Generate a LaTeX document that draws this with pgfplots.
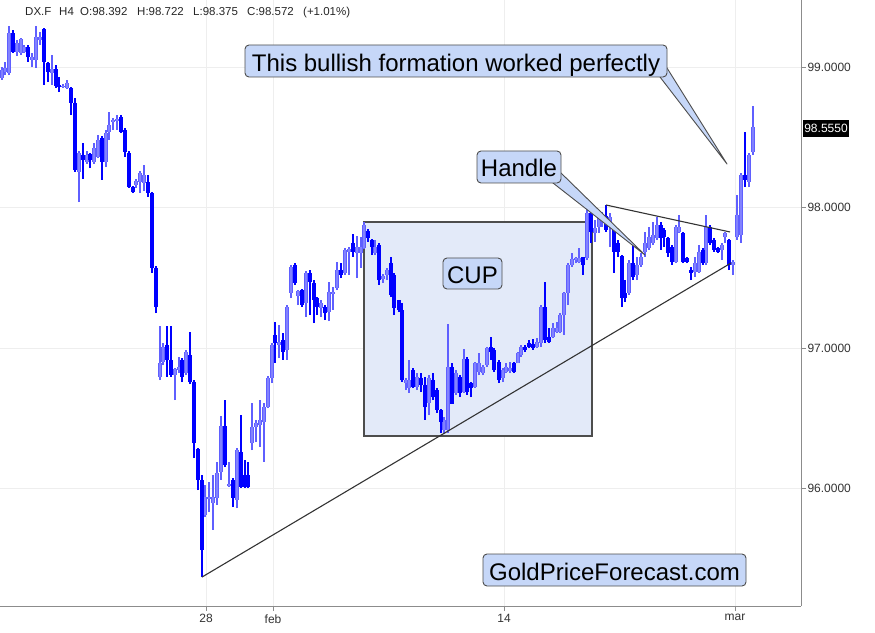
\documentclass[border=0pt]{standalone}
\usepackage{fontspec}
\setmainfont{Liberation Sans}
\usepackage{pgfplots}
\usepackage{pgfplotstable}
\pgfplotsset{compat=1.18}

\definecolor{bullc}{RGB}{95,95,255}
\definecolor{bullin}{RGB}{130,130,255}
\definecolor{bearc}{RGB}{0,0,255}
\definecolor{calloutfill}{RGB}{198,215,248}
\definecolor{cupfill}{RGB}{227,234,249}
\definecolor{edgec}{RGB}{77,77,77}
\definecolor{gridc}{RGB}{238,238,238}
\definecolor{axisc}{RGB}{140,140,140}

% DX.F, H4 candles: x = bar position, o h l c = prices
\pgfplotstableread{
x o h l c
2 98.922 99.000 98.908 98.979
5 98.965 99.036 98.943 98.993
9 98.957 99.292 98.943 99.242
13 99.242 99.263 99.100 99.107
17 99.107 99.192 99.078 99.171
21 99.100 99.207 99.085 99.199
24 99.107 99.157 99.100 99.142
28 99.142 99.157 99.036 99.071
32 99.050 99.100 99.000 99.071
36 99.050 99.292 98.993 99.214
40 99.192 99.249 99.157 99.214
44 99.271 99.278 98.872 99.036
48 99.029 99.036 98.893 98.965
52 98.957 99.085 98.872 98.986
56 98.986 99.014 98.851 98.865
59 98.872 98.929 98.822 98.858
63 98.858 98.879 98.851 98.865
67 98.851 98.908 98.844 98.886
71 98.851 98.858 98.658 98.744
75 98.744 98.779 98.253 98.267
79 98.253 98.402 98.039 98.388
83 98.374 98.459 98.203 98.338
87 98.324 98.402 98.310 98.374
90 98.381 98.388 98.281 98.338
94 98.324 98.459 98.310 98.424
98 98.360 98.516 98.352 98.481
102 98.495 98.509 98.196 98.324
106 98.324 98.552 98.288 98.530
109 98.537 98.680 98.481 98.587
113 98.609 98.637 98.552 98.623
117 98.616 98.658 98.552 98.630
121 98.644 98.658 98.530 98.537
125 98.552 98.566 98.360 98.395
129 98.388 98.402 98.139 98.146
133 98.146 98.153 98.103 98.110
136 98.160 98.203 98.139 98.189
140 98.182 98.260 98.103 98.246
144 98.175 98.303 98.118 98.231
148 98.182 98.231 98.075 98.103
152 98.103 98.110 97.534 97.570
156 97.570 97.584 97.249 97.292
160 96.794 97.157 96.772 96.893
163 96.900 97.036 96.879 97.007
167 97.021 97.157 96.794 96.915
171 96.915 97.157 96.794 96.808
175 96.808 96.858 96.630 96.851
179 96.843 96.936 96.822 96.865
182 96.915 96.929 96.758 96.794
186 96.822 96.986 96.808 96.972
190 96.950 97.114 96.744 96.758
194 96.758 96.772 96.217 96.324
198 96.281 96.288 95.989 96.061
202 96.061 96.096 95.370 95.562
205 95.811 96.025 95.797 95.940
209 95.925 96.046 95.833 95.940
213 95.897 96.096 95.705 95.940
217 95.933 96.189 95.883 96.110
221 96.118 96.516 96.061 96.445
225 96.445 96.630 96.153 96.167
229 96.018 96.189 96.011 96.032
233 96.061 96.075 95.868 95.933
237 95.918 96.288 95.861 96.274
241 96.260 96.523 96.004 96.011
245 96.096 96.203 96.004 96.011
248 96.096 96.189 96.004 96.011
252 96.324 96.609 96.274 96.438
256 96.438 96.488 96.331 96.466
260 96.452 96.630 96.296 96.488
264 96.473 96.609 96.189 96.580
268 96.580 96.801 96.573 96.787
272 96.787 97.036 96.751 97.021
275 97.093 97.185 96.893 97.036
279 97.021 97.164 96.929 97.043
283 97.057 97.107 96.915 96.972
287 96.986 97.306 96.915 97.292
291 97.392 97.591 97.356 97.577
295 97.591 97.605 97.449 97.463
298 97.370 97.413 97.306 97.406
302 97.413 97.420 97.292 97.306
306 97.320 97.548 97.221 97.534
310 97.534 97.555 97.235 97.470
314 97.463 97.484 97.178 97.342
317 97.356 97.363 97.235 97.292
321 97.285 97.342 97.221 97.320
325 97.292 97.306 97.199 97.249
329 97.256 97.470 97.192 97.399
333 97.385 97.434 97.271 97.399
337 97.427 97.612 97.413 97.555
341 97.555 97.605 97.498 97.520
345 97.534 97.712 97.520 97.698
349 97.684 97.719 97.520 97.705
353 97.748 97.811 97.648 97.684
357 97.676 97.797 97.498 97.719
361 97.676 97.790 97.570 97.719
364 97.712 97.897 97.705 97.876
368 97.833 97.847 97.755 97.783
372 97.769 97.776 97.662 97.719
375 97.676 97.769 97.662 97.719
379 97.733 97.748 97.449 97.484
383 97.491 97.527 97.463 97.513
387 97.520 97.570 97.484 97.555
391 97.605 97.648 97.363 97.377
394 97.520 97.534 97.235 97.285
399 97.342 97.342 97.256 97.271
402 97.271 97.320 96.758 96.772
406 96.751 96.787 96.701 96.772
409 96.716 96.915 96.680 96.772
413 96.843 96.858 96.716 96.723
417 96.723 96.822 96.701 96.794
421 96.787 96.822 96.687 96.737
425 96.737 96.794 96.488 96.580
429 96.609 96.808 96.523 96.787
433 96.772 96.822 96.630 96.651
437 96.701 96.716 96.538 96.559
441 96.559 96.566 96.395 96.473
444 96.417 96.509 96.388 96.488
448 96.417 97.171 96.395 96.865
452 96.865 96.893 96.602 96.602
456 96.680 96.843 96.666 96.822
460 96.794 96.808 96.651 96.680
464 96.687 96.993 96.680 96.922
467 96.922 96.936 96.666 96.687
471 96.751 96.758 96.651 96.716
475 96.723 96.900 96.716 96.893
479 96.829 96.965 96.808 96.893
483 96.822 96.879 96.808 96.865
487 96.879 97.007 96.865 97.000
491 97.007 97.078 96.915 96.972
494 96.986 97.000 96.829 96.843
499 96.900 96.915 96.751 96.772
503 96.787 96.858 96.758 96.843
506 96.829 96.893 96.822 96.865
510 96.836 96.900 96.822 96.858
514 96.893 96.900 96.822 96.829
518 96.893 96.972 96.893 96.965
521 96.950 97.021 96.936 97.007
525 97.007 97.021 96.972 96.986
529 97.036 97.057 97.000 97.007
533 97.029 97.064 96.986 97.000
537 97.007 97.071 97.000 97.043
541 97.036 97.306 97.007 97.292
545 97.292 97.470 97.036 97.057
549 97.078 97.143 97.036 97.043
553 97.078 97.178 97.071 97.143
557 97.114 97.185 97.107 97.143
560 97.114 97.249 97.107 97.235
564 97.235 97.399 97.093 97.392
568 97.392 97.605 97.306 97.591
572 97.591 97.676 97.577 97.634
576 97.627 97.648 97.605 97.641
579 97.612 97.712 97.605 97.641
583 97.648 97.648 97.520 97.591
587 97.641 98.018 97.627 97.961
591 97.961 97.968 97.748 97.826
595 97.819 97.911 97.755 97.854
599 97.861 97.947 97.819 97.925
602 97.897 97.968 97.861 97.947
606 97.940 98.018 97.826 97.840
610 97.861 97.961 97.719 97.933
614 97.854 97.861 97.534 97.684
618 97.748 97.769 97.648 97.684
622 97.655 97.662 97.292 97.356
625 97.392 97.484 97.328 97.356
629 97.392 97.627 97.377 97.605
633 97.605 97.733 97.484 97.506
637 97.520 97.648 97.484 97.591
641 97.591 97.676 97.577 97.648
645 97.684 97.826 97.648 97.748
649 97.712 97.861 97.698 97.790
653 97.748 97.897 97.733 97.804
657 97.783 97.933 97.769 97.876
661 97.876 97.897 97.698 97.783
664 97.840 97.854 97.719 97.790
668 97.783 97.790 97.648 97.676
672 97.719 97.733 97.591 97.612
676 97.612 97.876 97.605 97.861
679 97.826 97.947 97.819 97.861
683 97.819 97.826 97.605 97.612
687 97.641 97.648 97.605 97.612
691 97.555 97.577 97.484 97.534
695 97.541 97.648 97.506 97.605
699 97.541 97.733 97.534 97.684
703 97.698 97.712 97.591 97.605
706 97.605 97.947 97.591 97.861
710 97.861 97.876 97.733 97.748
714 97.769 97.783 97.684 97.698
718 97.712 97.719 97.676 97.684
722 97.698 97.748 97.627 97.733
725 97.790 97.826 97.748 97.819
729 97.769 97.776 97.555 97.591
733 97.591 97.627 97.520 97.612
737 97.790 98.089 97.769 97.947
741 97.804 98.246 97.748 98.231
745 98.231 98.537 98.146 98.196
749 98.182 98.388 98.146 98.374
753 98.392 98.722 98.375 98.572
}\candles

% rising candles keep their x, falling ones are moved out of view (and the other way round)
\def\upx{\thisrow{c}<\thisrow{o} ? -100 : \thisrow{x}}
\def\downx{\thisrow{c}<\thisrow{o} ? \thisrow{x} : -100}

\pgfplotsset{
  wick/.style={mark=none, forget plot, -, line width=1.1pt, draw=#1,
    quiver={u=0, v=\thisrow{h}-\thisrow{l}}},
  body/.style 2 args={mark=none, forget plot, -, line width=#2, draw=#1,
    quiver={u=0, v={max(abs(\thisrow{c}-\thisrow{o}),0.009)}}},
}

\tikzset{
  callout/.style={draw=edgec, fill=calloutfill, line width=0.9pt, line join=round},
  callout text/.style={font=\fontsize{24}{28}\selectfont, text=black, inner sep=0pt},
  head/.style={anchor=base west, font=\fontsize{11.5}{13}\selectfont, text=black!85, inner sep=0pt},
}

\begin{document}
\begin{tikzpicture}
\begin{axis}[
  scale only axis, width=801pt, height=606pt,
  at={(0,0)}, anchor=south west,
  xmin=0, xmax=801, ymin=95.164, ymax=99.477,
  axis x line*=bottom, axis y line*=right,
  axis line style={axisc, line width=1pt, -},
  xtick={206,273,504,735}, xticklabels={28,feb,14,mar},
  ytick={96,97,98,99}, yticklabels={96.0000,97.0000,98.0000,99.0000},
  tick align=outside, major tick length=5pt,
  tick style={axisc, line width=1pt},
  grid=major, major grid style={gridc, line width=1pt},
  ticklabel style={font=\fontsize{12}{14}\selectfont, text=black!80},
  yticklabel style={xshift=-2pt},
]
% cup region
\draw[fill=cupfill, draw=edgec, line width=1.2pt]
  (axis cs:364,97.897) rectangle (axis cs:592,96.374);

% wicks: from low up to high
\addplot[wick=bullc] table[x expr={\upx}, y=l] {\candles};
\addplot[wick=bearc] table[x expr={\downx}, y=l] {\candles};
% bodies: from the lower of open/close up to the other
\addplot[body={bullc}{3.4pt}] table[x expr={\upx}, y expr={min(\thisrow{o},\thisrow{c})}] {\candles};
\addplot[body={bullin}{1.5pt}] table[x expr={\upx}, y expr={min(\thisrow{o},\thisrow{c})}] {\candles};
\addplot[body={bearc}{3.4pt}] table[x expr={\downx}, y expr={min(\thisrow{o},\thisrow{c})}] {\candles};

% trend lines
\draw[black!80, line width=1.1pt] (axis cs:202,95.370) -- (axis cs:731,97.605);
\draw[black!80, line width=1.1pt] (axis cs:606,98.018) -- (axis cs:730,97.826);
\end{axis}

% annotations in pixel coordinates of the reference
\begin{scope}[shift={(0pt,606pt)}, x=1pt, y=-1pt]
  \node[head] at (25,15.5) {DX.F};
  \node[head] at (59,15.5) {H4};
  \node[head] at (80,15.5) {O:98.392};
  \node[head] at (137,15.5) {H:98.722};
  \node[head] at (193,15.5) {L:98.375};
  \node[head] at (247,15.5) {C:98.572};
  \node[head] at (303,15.5) {(+1.01\%)};

  % price tag
  \fill[black] (803,120) rectangle (849,137);
  \node[font=\fontsize{12}{14}\selectfont, text=white, inner sep=0pt] at (826,128.5) {98.5550};

  % big callout
  \draw[callout] (656.6,72.6) -- (727,164) -- (664,63.2) -- cycle;
  \draw[callout, rounded corners=4pt] (245,45) rectangle (667,77);
  \node[callout text, anchor=base] at (456,71.5) {This bullish formation worked perfectly};

  % handle callout
  \draw[callout] (543.8,175.8) -- (645,255) -- (552.6,164.8) -- cycle;
  \draw[callout, rounded corners=4pt] (477,151) rectangle (561,183);
  \node[callout text, anchor=base] at (519,177) {Handle};

  % cup label
  \draw[callout, rounded corners=4pt] (443,258) rectangle (502,289);
  \node[callout text, anchor=base] at (472.5,284) {CUP};

  % site label
  \draw[callout, rounded corners=4pt] (483,554) rectangle (746,586);
  \node[callout text, anchor=base] at (614.5,580) {GoldPriceForecast.com};
\end{scope}

\pgfresetboundingbox
\path[use as bounding box] (0pt,-26pt) rectangle (875pt,606pt);
\end{tikzpicture}
\end{document}
